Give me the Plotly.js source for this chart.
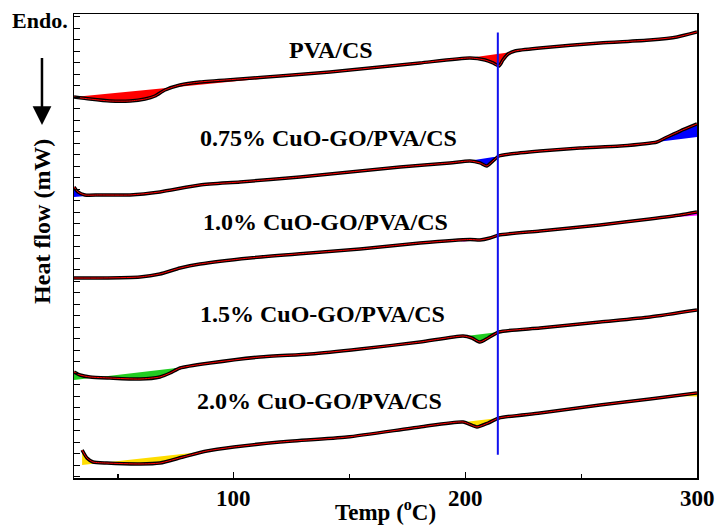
<!DOCTYPE html>
<html><head><meta charset="utf-8">
<script src="https://cdn.plot.ly/plotly-3.0.1.min.js"></script>
<style>html,body{margin:0;padding:0;background:#fff}#chart{width:717px;height:527px}</style>
</head><body><div id="chart"></div>
<script>
// ---- data (Temp in °C, heat flow in arbitrary offset units) ----
const sampleNames = ['PVA/CS', '0.75% CuO-GO/PVA/CS', '1.0% CuO-GO/PVA/CS', '1.5% CuO-GO/PVA/CS', '2.0% CuO-GO/PVA/CS'];
const fillColors = ['#ff0000', '#0000ff', '#ff00ff', '#22cc22', '#ffdd00'];

const temp1 = [31.0, 37.9, 46.5, 55.2, 61.7, 66.0, 70.3, 76.8, 85.4, 102.7, 119.9, 141.5, 163.1, 180.4, 202.0, 208.5, 211.9, 214.5, 216.2, 218.4, 221.4, 232.2, 258.1, 279.7, 291.4, 300.0];
const hf1   = [32.84, 32.67, 32.50, 32.50, 32.67, 32.93, 33.45, 33.88, 34.14, 34.40, 34.66, 35.00, 35.43, 35.78, 36.21, 36.03, 35.78, 35.52, 36.03, 36.55, 36.81, 37.07, 37.50, 37.76, 38.02, 38.45];

const temp2 = [31.0, 32.7, 35.7, 42.2, 55.2, 68.1, 85.4, 102.7, 128.6, 150.2, 171.8, 193.3, 202.0, 206.3, 209.3, 211.9, 214.5, 219.2, 232.2, 249.5, 266.8, 282.7, 286.2, 292.7, 300.0];
const hf2   = [25.09, 24.66, 24.40, 24.40, 24.40, 24.66, 25.26, 25.52, 25.95, 26.38, 26.81, 27.16, 27.33, 27.16, 26.90, 27.33, 27.76, 27.93, 28.19, 28.45, 28.62, 28.97, 29.31, 29.91, 30.52];

const temp3 = [31.0, 42.2, 59.5, 68.1, 76.8, 85.4, 107.0, 132.9, 154.5, 180.4, 202.0, 206.3, 210.6, 214.5, 232.2, 258.1, 279.7, 292.7, 300.0];
const hf3   = [17.24, 17.24, 17.33, 17.59, 18.10, 18.45, 18.97, 19.40, 19.74, 20.26, 20.56, 20.52, 20.69, 20.95, 21.29, 21.81, 22.33, 22.67, 22.93];

const temp4 = [31.0, 33.6, 37.9, 46.5, 59.5, 68.1, 72.5, 76.8, 89.7, 111.3, 132.9, 154.5, 180.4, 199.0, 202.8, 206.3, 209.8, 214.5, 232.2, 258.1, 279.7, 300.0];
const hf4   = [9.14, 8.88, 8.71, 8.62, 8.53, 8.71, 9.05, 9.48, 9.91, 10.43, 10.69, 11.12, 11.72, 12.24, 12.07, 11.72, 12.07, 12.59, 12.93, 13.45, 13.88, 14.48];

const temp5 = [34.5, 36.6, 39.2, 45.2, 59.5, 68.1, 78.1, 88.4, 100.0, 119.9, 148.9, 180.4, 199.0, 205.0, 209.8, 214.5, 232.2, 258.1, 279.7, 300.0];
const hf5   = [2.41, 1.72, 1.38, 1.29, 1.21, 1.29, 1.81, 2.33, 2.67, 3.10, 3.53, 4.40, 4.83, 4.40, 4.74, 5.17, 5.60, 6.29, 6.81, 7.33];

// integration baselines (start/end temp and heat flow of each shaded peak)
const baseT1 = [[31.0, 111.3], [199.8, 220.1]];
const baseH1 = [[32.84, 34.40], [36.16, 36.72]];
const baseT2 = [[31.0, 38.8], [199.8, 214.9], [282.7, 300.0]];
const baseH2 = [[24.22, 24.35], [27.28, 27.76], [28.97, 29.40]];
const baseT3 = [[197.7, 214.5], [279.7, 300.0]];
const baseH3 = [[20.35, 20.78], [22.33, 22.63]];
const baseT4 = [[31.0, 78.9], [196.8, 214.5]];
const baseH4 = [[8.45, 9.57], [12.16, 12.59]];
const baseT5 = [[34.5, 87.6], [197.7, 214.5], [290.5, 300.0]];
const baseH5 = [[1.12, 2.28], [4.78, 5.17], [7.07, 7.03]];

const labelTemp = [142.0, 140.7, 139.4, 138.1, 137.2];
const labelHF   = [36.9, 29.31, 22.07, 14.14, 6.64];

const markTemp = 214;          // vertical reference line
const markHF = [2.0, 38.4];

const xTickVals = [100, 200, 300];
const xTickText = ['100', '200', '300'];

// ---- build traces ----
const temps = [temp1, temp2, temp3, temp4, temp5];
const hfs = [hf1, hf2, hf3, hf4, hf5];
const baseTs = [baseT1, baseT2, baseT3, baseT4, baseT5];
const baseHs = [baseH1, baseH2, baseH3, baseH4, baseH5];

const traces = [];
temps.forEach((T, i) => {
  baseTs[i].forEach((bt, j) => {
    const bh = baseHs[i][j];
    const xs = [bt[0], bt[1]], ys = [bh[0], bh[1]];
    for (let k = T.length - 1; k >= 0; k--) {
      if (T[k] >= bt[0] && T[k] <= bt[1]) { xs.push(T[k]); ys.push(hfs[i][k]); }
    }
    traces.push({x: xs, y: ys, mode: 'lines', fill: 'toself', fillcolor: fillColors[i],
      line: {width: 0, color: fillColors[i]}, hoverinfo: 'skip', showlegend: false});
  });
});
temps.forEach((T, i) => {
  traces.push({x: T, y: hfs[i], mode: 'lines', line: {color: '#000000', width: 3.5, shape: 'spline', smoothing: 0.6}, showlegend: false, name: sampleNames[i]});
  traces.push({x: T, y: hfs[i], mode: 'lines', line: {color: '#ff0000', width: 1, shape: 'spline', smoothing: 0.6}, showlegend: false, hoverinfo: 'skip'});
});
traces.push({x: [markTemp, markTemp], y: markHF, mode: 'lines', line: {color: '#1010ee', width: 2}, showlegend: false, hoverinfo: 'skip'});

const serif = 'Liberation Serif, Times New Roman, serif';
const annotations = sampleNames.map((n, i) => ({
  x: labelTemp[i], y: labelHF[i], xref: 'x', yref: 'y', text: '<b>' + n + '</b>', showarrow: false,
  font: {family: serif, size: 24, color: '#000'}, xanchor: 'center', yanchor: 'middle'
}));
// bold x tick labels
xTickVals.forEach((v, i) => annotations.push({x: v, y: -0.045, xref: 'x', yref: 'paper', text: '<b>' + xTickText[i] + '</b>',
  showarrow: false, font: {family: serif, size: 23, color: '#000'}, xanchor: 'center', yanchor: 'middle'}));
annotations.push({x: -0.0546, y: 0.985, xref: 'paper', yref: 'paper', text: '<b>Endo.</b>', showarrow: false,
  font: {family: serif, size: 22, color: '#000'}, xanchor: 'center', yanchor: 'middle'});
annotations.push({x: -0.0514, y: 0.761, xref: 'paper', yref: 'paper', text: ' ', showarrow: true,
  ax: 0, ay: -70, arrowhead: 2, arrowsize: 1.5, arrowwidth: 2.5, arrowcolor: '#000', font: {size: 2}});
annotations.push({x: -0.0514, y: 0.554, xref: 'paper', yref: 'paper', text: '<b>Heat flow (mW)</b>', showarrow: false,
  textangle: -90, font: {family: serif, size: 24, color: '#000'}, xanchor: 'center', yanchor: 'middle'});
annotations.push({x: 0.5, y: -0.071, xref: 'paper', yref: 'paper', text: '<b>Temp (<sup>o</sup>C)</b>', showarrow: false,
  font: {family: serif, size: 23, color: '#000'}, xanchor: 'center', yanchor: 'middle'});

const layout = {
  width: 717, height: 527,
  margin: {l: 74, r: 20, t: 14, b: 49},
  paper_bgcolor: '#fff', plot_bgcolor: '#fff',
  showlegend: false,
  xaxis: {range: [31, 300], tickvals: xTickVals, showticklabels: false,
    ticks: 'inside', ticklen: 6, tickwidth: 1.2, tickcolor: '#000',
    showline: true, linecolor: '#000', linewidth: 1.5, mirror: true, showgrid: false, zeroline: false,
    minor: {tickvals: [50, 150, 250], ticks: 'inside', ticklen: 4, tickcolor: '#000', tickwidth: 1.2, showgrid: false}},
  yaxis: {range: [0, 40], tick0: 0.11, dtick: 0.9914, ticks: 'inside', ticklen: 6, tickwidth: 1.2, tickcolor: '#000',
    showticklabels: false, showline: true, linecolor: '#000', linewidth: 1.5, mirror: true, showgrid: false, zeroline: false},
  annotations: annotations
};
Plotly.newPlot('chart', traces, layout, {displayModeBar: false, staticPlot: true});
</script></body></html>
